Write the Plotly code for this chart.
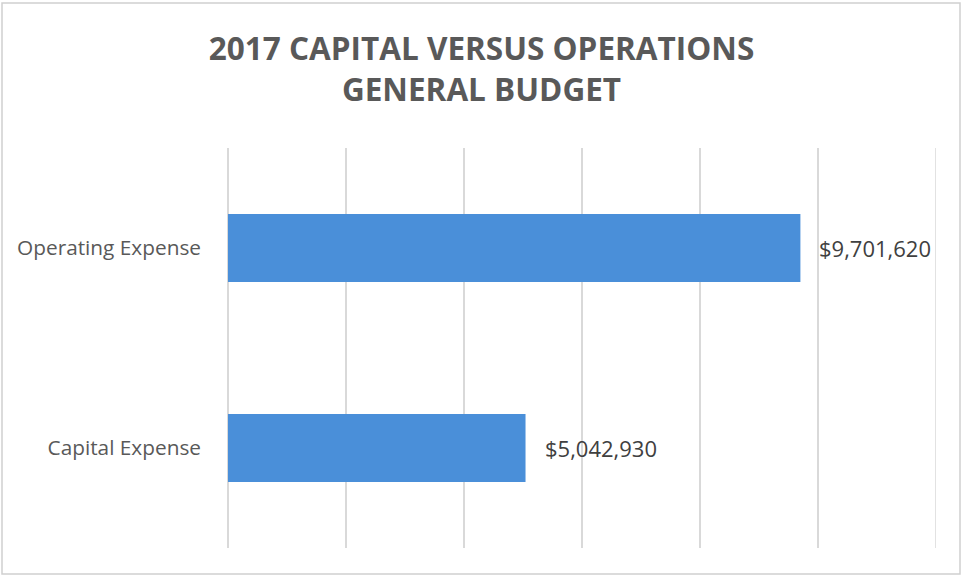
import plotly.graph_objects as go

categories = ["Capital Expense", "Operating Expense"]
values = [5042930, 9701620]
value_labels = ["$5,042,930", "$9,701,620"]
title_lines = ["2017 CAPITAL VERSUS OPERATIONS", "GENERAL BUDGET"]

W, H = 963, 577
L, R, T, B = 228, 27, 148, 29

fig = go.Figure(
    go.Bar(
        y=categories,
        x=values,
        orientation="h",
        marker=dict(color="#4a8fd9", line=dict(width=0)),
        width=0.34,
        hoverinfo="skip",
    )
)

annotations = [
    dict(
        x=v,
        y=c,
        xref="x",
        yref="y",
        text=t,
        showarrow=False,
        xanchor="left",
        yanchor="middle",
        xshift=17,
        font=dict(family="Open Sans, sans-serif", size=22, color="#404040"),
    )
    for c, v, t in zip(categories, values, value_labels)
]

fig.update_layout(
    width=W,
    height=H,
    margin=dict(l=L, r=R, t=T, b=B),
    paper_bgcolor="white",
    plot_bgcolor="white",
    showlegend=False,
    title=dict(
        text="<br>".join(title_lines),
        x=0.5,
        xanchor="center",
        y=1 - 60 / H,
        yanchor="middle",
        font=dict(family="Open Sans, sans-serif", size=31.5, color="#595959", weight="bold"),
    ),
    annotations=annotations,
    xaxis=dict(
        range=[0, 12000000],
        dtick=2000000,
        showgrid=True,
        gridcolor="#d9d9d9",
        gridwidth=1.5,
        zeroline=True,
        zerolinecolor="#d9d9d9",
        zerolinewidth=1.5,
        showticklabels=False,
        ticks="",
        fixedrange=True,
    ),
    yaxis=dict(
        showgrid=False,
        zeroline=False,
        ticks="",
        ticklabelstandoff=26,
        tickfont=dict(family="Open Sans, sans-serif", size=20.8, color="#595959"),
        categoryorder="array",
        categoryarray=categories,
        fixedrange=True,
    ),
    shapes=[
        dict(
            type="rect",
            xref="paper",
            yref="paper",
            x0=(2 - L) / (W - L - R),
            x1=(960 - L) / (W - L - R),
            y0=((H - B) - 574) / (H - T - B),
            y1=((H - B) - 3) / (H - T - B),
            line=dict(color="#d0d0d0", width=1.5),
            fillcolor="rgba(0,0,0,0)",
            layer="below",
        ),
        dict(
            type="line",
            xref="x",
            yref="paper",
            x0=12000000,
            x1=12000000,
            y0=0,
            y1=1,
            line=dict(color="#d9d9d9", width=1.5),
            layer="below",
        ),
    ],
)

fig.write_html("out.html", config={"displayModeBar": False})
with open("out.html", "r", encoding="utf-8") as f:
    html = f.read()
html = html.replace("<body>", '<body style="margin:0;padding:0;">', 1)
with open("out.html", "w", encoding="utf-8") as f:
    f.write(html)
